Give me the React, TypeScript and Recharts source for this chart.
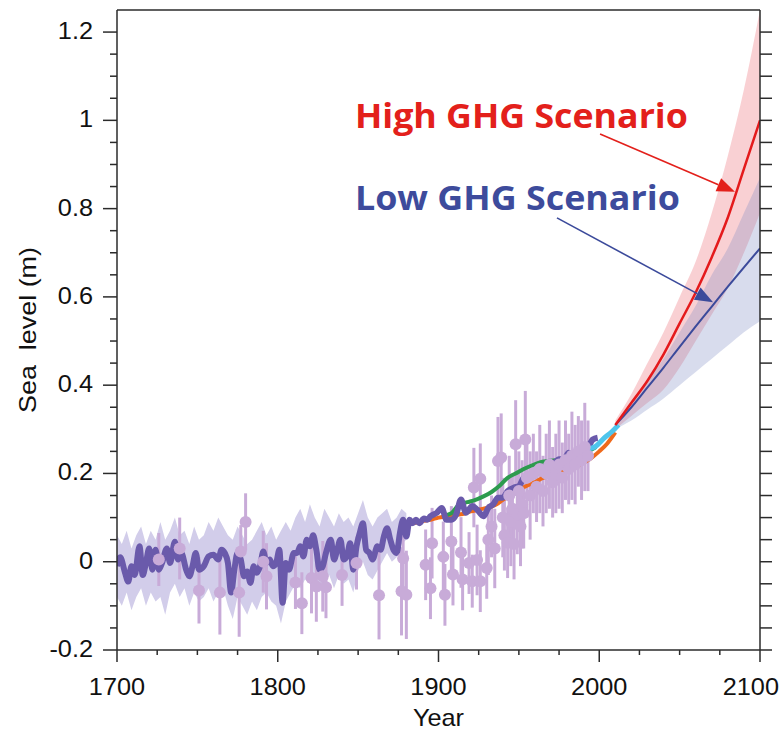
import React from "react";
import {
  ComposedChart,
  Line,
  Area,
  Scatter,
  ErrorBar,
  XAxis,
  YAxis,
  ReferenceLine,
  ReferenceDot,
  Label,
} from "recharts";

// reconstruction (purple line)
const reconYears = [
  1700, 1702, 1705, 1707, 1709, 1711, 1714, 1716, 1718, 1720,
  1722, 1724, 1726, 1728, 1731, 1733, 1736, 1738, 1740, 1743,
  1745, 1747, 1749, 1751, 1754, 1757, 1760, 1763, 1765, 1767,
  1769, 1771, 1773, 1775, 1777, 1779, 1781, 1783, 1785, 1787,
  1789, 1791, 1793, 1795, 1797, 1799, 1801, 1803, 1805, 1807,
  1810, 1812, 1814, 1816, 1818, 1820, 1822, 1824, 1826, 1828,
  1830, 1833, 1835, 1837, 1839, 1841, 1843, 1845, 1847, 1849,
  1851, 1853, 1855, 1857, 1859, 1862, 1864, 1866, 1868, 1870,
  1872, 1874, 1876, 1878, 1880, 1882, 1884, 1886, 1888, 1891,
  1893, 1895, 1899, 1902, 1905, 1908, 1911, 1914, 1917, 1921,
  1924, 1928, 1931, 1934, 1937, 1940, 1943, 1947, 1950, 1953,
  1956, 1959, 1962, 1965, 1968, 1971, 1975, 1978, 1981, 1984,
  1987, 1990, 1993, 1996, 1999,
];
const reconLevel = [
  -0.01, 0.01, -0.025, -0.045, -0.01, -0.03, 0.035, -0.03, -0.003, 0.03,
  -0.018, 0.027, -0.018, -0.003, 0.03, -0.003, 0.045, 0.005, 0.02, -0.018,
  -0.033, -0.01, 0.02, -0.018, -0.01, 0.012, 0.016, 0.005, 0.027, 0.02,
  -0.003, -0.07, -0.018, 0.02, 0.005, -0.033, -0.022, -0.048, -0.01, -0.025,
  -0.01, 0.023, -0.003, 0.005, -0.01, -0.003, 0.027, -0.093, -0.003, -0.018,
  0.02, 0.02, 0.035, 0.012, 0.05, 0.035, 0.06, 0.027, -0.018, -0.01,
  0.02, 0.05, 0.005, 0.027, 0.05, 0.005, 0.012, 0.042, -0.018, 0.035,
  0.065, 0.087, 0.027, 0.02, 0.005, 0.035, 0.027, 0.057, 0.076, 0.05,
  0.027, 0.02, 0.065, 0.095, 0.057, 0.095, 0.087, 0.095, 0.087, 0.098,
  0.095, 0.103, 0.111, 0.122, 0.095, 0.095, 0.107, 0.141, 0.111, 0.126,
  0.118, 0.103, 0.122, 0.13, 0.145, 0.145, 0.16, 0.168, 0.171, 0.19,
  0.194, 0.194, 0.205, 0.213, 0.217, 0.22, 0.232, 0.232, 0.247, 0.239,
  0.243, 0.239, 0.258, 0.277, 0.281,
];

// uncertainty band of the reconstruction
const bandYears = [
  1700, 1703, 1706, 1709, 1712, 1715, 1718, 1721, 1724, 1727,
  1730, 1733, 1736, 1739, 1742, 1745, 1748, 1751, 1754, 1757,
  1760, 1763, 1766, 1769, 1772, 1775, 1778, 1781, 1784, 1787,
  1790, 1793, 1796, 1799, 1802, 1805, 1808, 1811, 1814, 1817,
  1820, 1823, 1826, 1829, 1832, 1835, 1838, 1841, 1844, 1847,
  1850, 1853, 1856, 1859, 1862, 1865, 1868, 1871, 1874, 1877,
  1880,
];
const bandHigh = [
  0.06, 0.04, 0.07, 0.03, 0.06, 0.08, 0.04, 0.07, 0.05, 0.09,
  0.05, 0.07, 0.1, 0.06, 0.07, 0.04, 0.08, 0.05, 0.06, 0.09,
  0.07, 0.1, 0.08, 0.06, 0.05, 0.08, 0.06, 0.04, 0.05, 0.07,
  0.09, 0.06, 0.08, 0.05, 0.07, 0.09, 0.07, 0.1, 0.12, 0.09,
  0.13, 0.1, 0.08, 0.12, 0.1, 0.08, 0.11, 0.09, 0.1, 0.08,
  0.11, 0.14, 0.1, 0.08, 0.1, 0.11, 0.12, 0.09, 0.1, 0.12,
  0.11,
];
const bandLow = [
  -0.08, -0.1, -0.07, -0.11, -0.08, -0.06, -0.1, -0.07, -0.09, -0.08,
  -0.12, -0.07, -0.05, -0.08, -0.06, -0.1, -0.07, -0.09, -0.08, -0.06,
  -0.09, -0.07, -0.06, -0.1, -0.13, -0.08, -0.1, -0.12, -0.09, -0.11,
  -0.08, -0.07, -0.09, -0.1, -0.14, -0.09, -0.07, -0.05, -0.06, -0.04,
  -0.05, -0.03, -0.07, -0.05, -0.03, -0.06, -0.03, -0.05, -0.04, -0.07,
  -0.02, 0.0, -0.03, -0.04, -0.02, 0.0, 0.02, 0.0, 0.01, 0.04,
  0.05,
];

// tide gauge reconstructions
const orangeYears = [
  1880, 1885, 1890, 1895, 1900, 1905, 1910, 1915, 1920, 1925,
  1930, 1935, 1940, 1945, 1950, 1955, 1960, 1965, 1970, 1975,
  1980, 1985, 1990, 1995, 2000, 2005, 2010,
];
const orangeLevel = [
  0.09, 0.088, 0.092, 0.095, 0.1, 0.103, 0.106, 0.108, 0.114, 0.118,
  0.122, 0.128, 0.14, 0.152, 0.163, 0.172, 0.18, 0.19, 0.195, 0.2,
  0.206, 0.215, 0.224, 0.235, 0.25, 0.268, 0.293,
];
const greenYears = [
  1903, 1908, 1913, 1918, 1923, 1928, 1933, 1938, 1943, 1948,
  1953, 1958, 1963, 1968, 1973, 1978, 1983, 1988, 1993, 1998,
];
const greenLevel = [
  0.105, 0.11, 0.13, 0.135, 0.14, 0.148, 0.158, 0.172, 0.19, 0.2,
  0.21, 0.218, 0.225, 0.228, 0.23, 0.232, 0.24, 0.245, 0.25, 0.26,
];
// satellite altimetry
const cyanYears = [1993, 1998, 2003, 2008, 2012];
const cyanLevel = [0.255, 0.262, 0.28, 0.295, 0.31];

// salt-marsh / proxy points
const proxyYears = [
  1726, 1739, 1751, 1764, 1776, 1777, 1780, 1791, 1793, 1811,
  1815, 1821, 1824, 1828, 1830, 1840, 1849, 1863, 1877, 1878,
  1880, 1892, 1895, 1896, 1903, 1904, 1908, 1909, 1914, 1915,
  1919, 1921, 1922, 1924, 1926, 1926, 1930, 1931, 1933, 1935,
  1937, 1939, 1940, 1941, 1943, 1944, 1945, 1946, 1947, 1948,
  1949, 1950, 1951, 1952, 1953, 1954, 1955, 1957, 1959, 1961,
  1963, 1965, 1967, 1969, 1971, 1973, 1975, 1977, 1979, 1981,
  1983, 1985, 1987, 1989, 1991, 1993,
];
const proxyLevel = [
  0.005, 0.03, -0.065, -0.07, -0.07, 0.023, 0.09, 0.0, -0.033, -0.047,
  -0.094, -0.037, -0.056, -0.033, -0.058, -0.03, -0.003, -0.076, -0.067, 0.008,
  -0.075, -0.007, -0.06, 0.042, 0.011, -0.075, 0.046, -0.029, 0.021, -0.04,
  -0.003, -0.044, 0.168, 0.004, -0.044, 0.188, -0.014, 0.05, 0.08, 0.03,
  0.228, 0.236, 0.1, 0.06, 0.043, 0.15, 0.09, 0.12, 0.04, 0.266,
  0.107, 0.16, 0.08, 0.13, 0.11, 0.277, 0.19, 0.15, 0.2, 0.17,
  0.21, 0.16, 0.2, 0.22, 0.18, 0.2, 0.22, 0.19, 0.23, 0.21,
  0.24, 0.22, 0.25, 0.23, 0.26, 0.24,
];
const proxyErr = [
  0.06, 0.07, 0.075, 0.095, 0.1, 0.06, 0.065, 0.07, 0.075, 0.06,
  0.07, 0.08, 0.08, 0.08, 0.07, 0.07, 0.06, 0.1, 0.1, 0.07,
  0.1, 0.08, 0.07, 0.08, 0.08, 0.07, 0.08, 0.07, 0.08, 0.07,
  0.07, 0.06, 0.09, 0.08, 0.07, 0.08, 0.07, 0.08, 0.07, 0.09,
  0.1, 0.1, 0.09, 0.08, 0.08, 0.09, 0.1, 0.08, 0.08, 0.1,
  0.09, 0.09, 0.09, 0.1, 0.08, 0.11, 0.09, 0.1, 0.09, 0.08,
  0.1, 0.08, 0.09, 0.1, 0.08, 0.09, 0.1, 0.08, 0.09, 0.08,
  0.1, 0.09, 0.08, 0.09, 0.1, 0.08,
];

// projections
const projYears = [2010, 2020, 2030, 2040, 2050, 2060, 2070, 2080, 2090, 2100];
const highMid = [0.31, 0.36, 0.41, 0.47, 0.54, 0.61, 0.69, 0.78, 0.89, 1.0];
const highLow = [0.3, 0.33, 0.36, 0.39, 0.44, 0.5, 0.56, 0.62, 0.7, 0.79];
const highHigh = [0.32, 0.38, 0.45, 0.52, 0.6, 0.68, 0.79, 0.92, 1.07, 1.25];
const lowMid = [0.31, 0.35, 0.395, 0.44, 0.487, 0.533, 0.578, 0.623, 0.667, 0.71];
const lowLow = [0.3, 0.32, 0.345, 0.37, 0.4, 0.43, 0.46, 0.49, 0.52, 0.545];
const lowHigh = [0.31, 0.36, 0.41, 0.46, 0.52, 0.58, 0.65, 0.71, 0.79, 0.87];

// axes
const yMajor = [-0.2, 0, 0.2, 0.4, 0.6, 0.8, 1, 1.2];
const yTicks = [
  -0.2, -0.15, -0.1, -0.05, 0, 0.05, 0.1, 0.15, 0.2, 0.25, 0.3, 0.35, 0.4, 0.45,
  0.5, 0.55, 0.6, 0.65, 0.7, 0.75, 0.8, 0.85, 0.9, 0.95, 1, 1.05, 1.1, 1.15, 1.2,
];
const xMajor = [1700, 1800, 1900, 2000, 2100];
const xTicks = [
  1700, 1725, 1750, 1775, 1800, 1825, 1850, 1875, 1900, 1925, 1950, 1975, 2000,
  2025, 2050, 2075, 2100,
];

const zip = (xs: number[], ys: number[]) => xs.map((year, i) => ({ year, level: ys[i] }));
const reconData = zip(reconYears, reconLevel);
const bandData = bandYears.map((year, i) => ({ year, range: [bandLow[i], bandHigh[i]] }));
const orangeData = zip(orangeYears, orangeLevel);
const greenData = zip(greenYears, greenLevel);
const cyanData = zip(cyanYears, cyanLevel);
const proxyData = proxyYears.map((year, i) => ({ year, level: proxyLevel[i], err: proxyErr[i] }));
const highData = projYears.map((year, i) => ({ year, level: highMid[i], range: [highLow[i], highHigh[i]] }));
const lowData = projYears.map((year, i) => ({ year, level: lowMid[i], range: [lowLow[i], lowHigh[i]] }));

const AXIS = "#2b2b2b";
const FONT = "Liberation Sans, Arial, sans-serif";
const STRETCH = 1.1;
const isOne = (arr: number[], v: number) => arr.some((m) => Math.abs(m - v) < 1e-6);
const fmt = (v: number) => String(Number(v.toFixed(2)));
// widen text a little around its anchor, like the source font
const widen = (x: number) => `translate(${x},0) scale(${STRETCH},1) translate(${-x},0)`;

const LeftTick = (p: any) => {
  const major = isOne(yMajor, p.payload.value);
  const tx = p.x - 24;
  return (
    <g>
      <line x1={p.x} x2={p.x - (major ? 14 : 7)} y1={p.y} y2={p.y} stroke={AXIS} strokeWidth={1.5} />
      {major && (
        <text x={tx} y={p.y + 7} transform={widen(tx)} textAnchor="end" fontSize={23} fontFamily={FONT} fill="#111">
          {fmt(p.payload.value)}
        </text>
      )}
    </g>
  );
};

const RightTick = (p: any) => (
  <line x1={p.x} x2={p.x + 12} y1={p.y} y2={p.y} stroke={AXIS} strokeWidth={1.5} />
);

const BottomTick = (p: any) => {
  const major = isOne(xMajor, p.payload.value);
  const last = p.payload.value === 2100;
  const tx = last ? p.x + 19 : p.x;
  return (
    <g>
      <line x1={p.x} x2={p.x} y1={p.y} y2={p.y + (major ? 12 : 5)} stroke={AXIS} strokeWidth={1.5} />
      {major && (
        <text x={tx} y={p.y + 45} transform={widen(tx)} textAnchor={last ? "end" : "middle"} fontSize={23}
          fontFamily={FONT} fill="#111">
          {p.payload.value}
        </text>
      )}
    </g>
  );
};

const YTitle = (p: any) => {
  const vb = p.viewBox;
  const cx = vb.x + 27;
  const cy = vb.y + vb.height / 2;
  return (
    <text x={cx} y={cy} transform={`rotate(-90 ${cx} ${cy})`} textAnchor="middle" dominantBaseline="central"
      fontSize={24} fontFamily={FONT} fill="#111" style={{ whiteSpace: "pre" }}
      textLength={166} lengthAdjust="spacingAndGlyphs">
      {"Sea  level (m)"}
    </text>
  );
};

const XTitle = (p: any) => {
  const vb = p.viewBox;
  const tx = vb.x + vb.width / 2;
  return (
    <text x={tx} y={vb.y + 76} transform={widen(tx)} textAnchor="middle" fontSize={23} fontFamily={FONT} fill="#111">
      Year
    </text>
  );
};

const arrowShape = (color: string) => (p: any) => {
  const { x1, y1, x2, y2 } = p;
  const a = Math.atan2(y2 - y1, x2 - x1);
  const len = 18;
  const half = 7;
  const bx = x2 - len * Math.cos(a);
  const by = y2 - len * Math.sin(a);
  const pts = `${x2},${y2} ${bx + half * Math.sin(a)},${by - half * Math.cos(a)} ${bx - half * Math.sin(a)},${by + half * Math.cos(a)}`;
  return (
    <g>
      <line x1={x1} y1={y1} x2={bx} y2={by} stroke={color} strokeWidth={1.6} />
      <polygon points={pts} fill={color} />
    </g>
  );
};

const textShape = (label: string, color: string, width: number) => (p: any) => (
  <text x={p.cx} y={p.cy} fontSize={34} fontWeight={700} fontFamily="Open Sans, Noto Sans, sans-serif"
    fill={color} textLength={width} lengthAdjust="spacingAndGlyphs">
    {label}
  </text>
);

export default function App() {
  return (
    <div style={{ position: "absolute", left: 0, top: 0, width: 781, height: 731, background: "#fff" }}>
      <ComposedChart width={781} height={731} margin={{ top: 10, right: 0, bottom: 0, left: 0 }}>
        <XAxis dataKey="year" type="number" domain={[1700, 2100]} ticks={xTicks} interval={0}
          height={81} tickSize={0} tickMargin={0} tickLine={false} tick={<BottomTick />}
          axisLine={{ stroke: AXIS, strokeWidth: 1.5 }} allowDataOverflow>
          <Label content={<XTitle />} />
        </XAxis>
        <YAxis type="number" domain={[-0.2, 1.25]} ticks={yTicks} interval={0} width={117}
          tickSize={0} tickMargin={0} tickLine={false} tick={<LeftTick />}
          axisLine={{ stroke: AXIS, strokeWidth: 1.5 }} allowDataOverflow>
          <Label content={<YTitle />} />
        </YAxis>
        <YAxis yAxisId="right" orientation="right" type="number" domain={[-0.2, 1.25]} ticks={yTicks}
          interval={0} width={21} tickSize={0} tickMargin={0} tickLine={false} tick={<RightTick />}
          axisLine={{ stroke: AXIS, strokeWidth: 1.5 }} allowDataOverflow />
        <ReferenceLine y={1.25} stroke={AXIS} strokeWidth={1.5} ifOverflow="visible" />

        <Area data={bandData} dataKey="range" type="linear" stroke="none" fill="#d2cdea" fillOpacity={1}
          isAnimationActive={false} />
        <Scatter data={proxyData} dataKey="level" fill="#c8abd8" isAnimationActive={false}
          shape={(p: any) => <circle cx={p.cx} cy={p.cy} r={6} fill="#c8abd8" />}>
          <ErrorBar dataKey="err" direction="y" width={0} stroke="#c8abd8" strokeWidth={3} />
        </Scatter>
        <Line data={orangeData} dataKey="level" type="monotone" stroke="#ef6a1c" strokeWidth={4} dot={false}
          isAnimationActive={false} />
        <Line data={greenData} dataKey="level" type="monotone" stroke="#2d9b4e" strokeWidth={4} dot={false}
          isAnimationActive={false} />
        <Line data={reconData} dataKey="level" type="monotone" stroke="#6a5aab" strokeWidth={6} dot={false}
          strokeLinejoin="round" isAnimationActive={false} />
        <Line data={cyanData} dataKey="level" type="monotone" stroke="#4ec5ec" strokeWidth={5} dot={false}
          isAnimationActive={false} />

        <Area data={highData} dataKey="range" type="monotone" stroke="none" fill="#f08a92" fillOpacity={0.4}
          isAnimationActive={false} />
        <Area data={lowData} dataKey="range" type="monotone" stroke="none" fill="#7f8ac4" fillOpacity={0.3}
          isAnimationActive={false} />
        <Line data={lowData} dataKey="level" type="monotone" stroke="#3b4a9b" strokeWidth={2} dot={false}
          isAnimationActive={false} />
        <Line data={highData} dataKey="level" type="monotone" stroke="#e41a1c" strokeWidth={2.5} dot={false}
          isAnimationActive={false} />

        <ReferenceLine segment={[{ x: 2000.5, y: 0.969 }, { x: 2084.4, y: 0.838 }]} shape={arrowShape("#e3201b")} />
        <ReferenceLine segment={[{ x: 1973.7, y: 0.779 }, { x: 2070.8, y: 0.588 }]} shape={arrowShape("#3b4a9b")} />
        <ReferenceDot x={1848} y={0.983} shape={textShape("High GHG Scenario", "#e3201b", 333)} />
        <ReferenceDot x={1848} y={0.797} shape={textShape("Low GHG Scenario", "#3d4b9c", 325)} />
      </ComposedChart>
    </div>
  );
}
